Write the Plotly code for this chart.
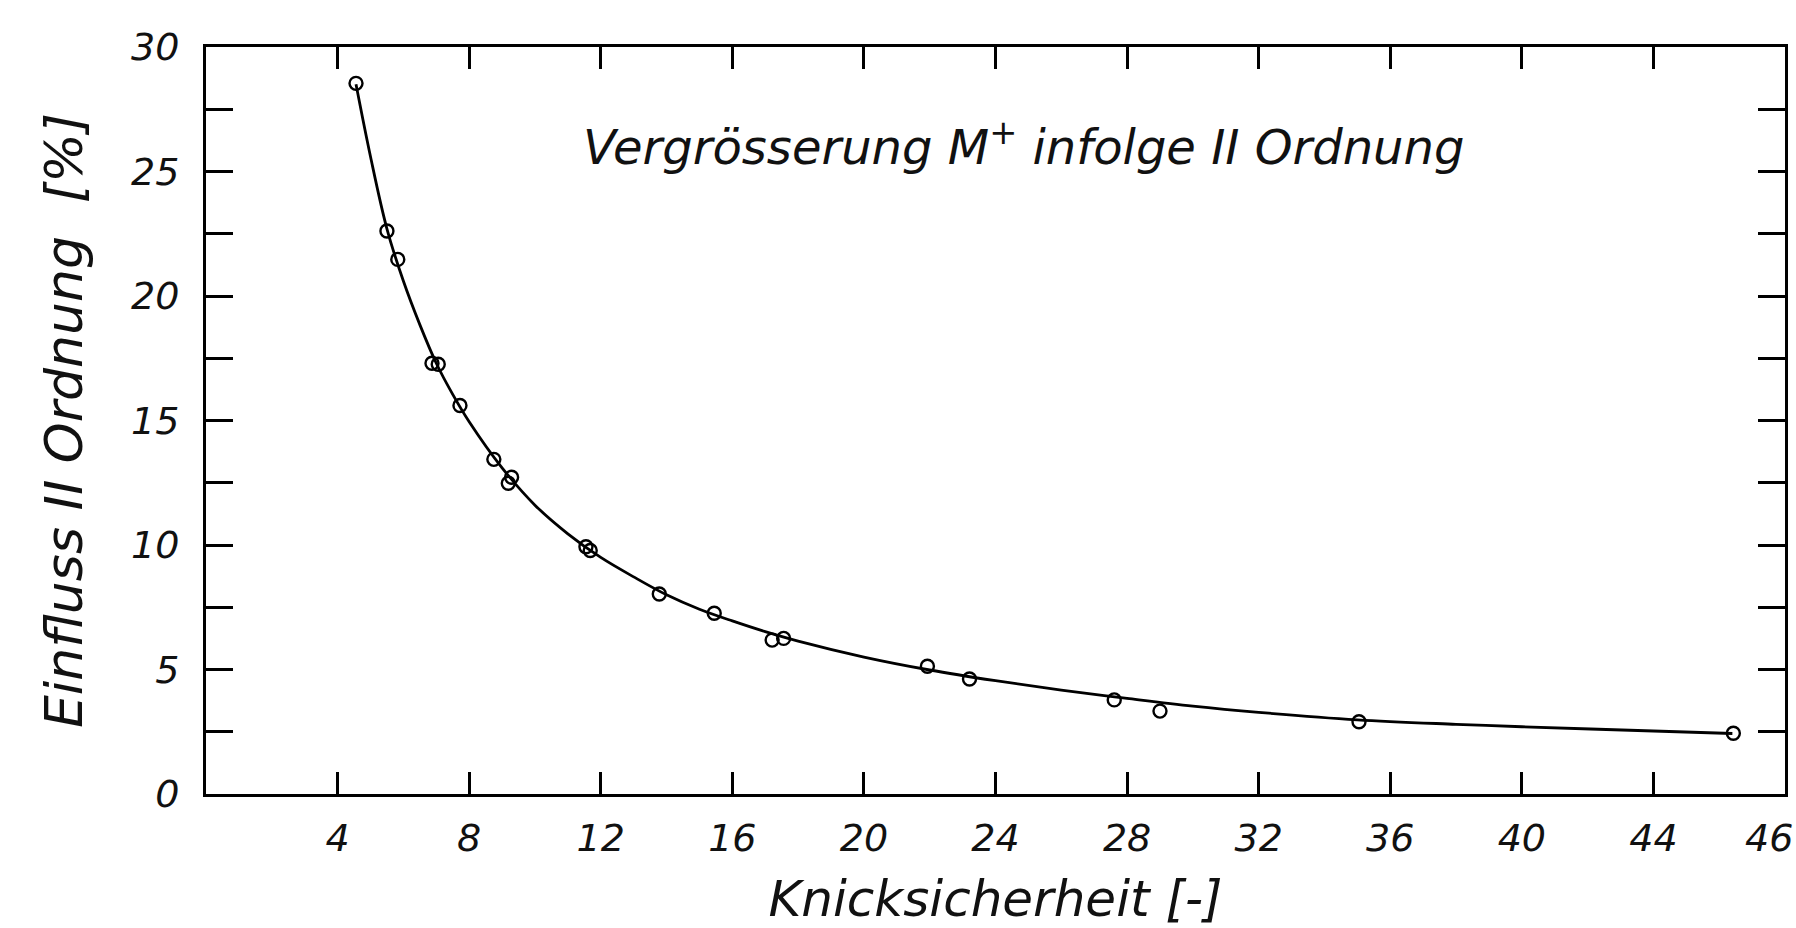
import plotly.graph_objects as go

# Measured points (Knicksicherheit, Einfluss II Ordnung in %)
point_x = [4.56, 5.50, 5.83, 6.87, 7.06, 7.72, 8.75, 9.19, 9.29, 11.55, 11.68,
           13.78, 15.45, 17.21, 17.56, 21.93, 23.21, 27.61, 29.0, 35.05, 46.43]
point_y = [28.54, 22.61, 21.47, 17.30, 17.26, 15.6, 13.44, 12.48, 12.72, 9.93, 9.78,
           8.03, 7.26, 6.18, 6.25, 5.13, 4.62, 3.78, 3.33, 2.90, 2.44]

# Fitted curve
curve_x = [4.56, 5.0, 5.5, 6.0, 6.5, 7.0, 7.5, 8.0, 9.0, 10.0, 11.0, 12.0, 13.0, 14.0,
           15.0, 16.0, 17.0, 18.0, 20.0, 22.0, 24.0, 26.0, 28.0, 30.0, 32.0, 35.0,
           38.0, 40.0, 44.0, 46.4]
curve_y = [28.5, 25.6, 22.7, 20.6, 18.85, 17.3, 16.05, 14.95, 13.1, 11.6, 10.45, 9.5,
           8.72, 8.0, 7.42, 6.95, 6.52, 6.14, 5.5, 4.98, 4.55, 4.17, 3.84, 3.53,
           3.28, 2.98, 2.8, 2.7, 2.53, 2.43]

x_tickvals = [4, 8, 12, 16, 20, 24, 28, 32, 36, 40, 44]
x_ticktext = ["4", "8", "12", "16", "20", "24", "28", "32", "36", "40", "44"]
x_end_label = "46"
y_tickvals = [0, 2.5, 5, 7.5, 10, 12.5, 15, 17.5, 20, 22.5, 25, 27.5, 30]
y_ticktext = ["0", "", "5", "", "10", "", "15", "", "20", "", "25", "", "30"]

FONT = "DejaVu Sans"
TICKFONT = dict(family=FONT, size=38, color="#111", style="italic")

fig = go.Figure()
fig.add_trace(go.Scatter(
    x=curve_x, y=curve_y, mode="lines",
    line=dict(color="black", width=2.8, shape="spline", smoothing=1.0),
    hoverinfo="skip", showlegend=False))
fig.add_trace(go.Scatter(
    x=point_x, y=point_y, mode="markers",
    marker=dict(symbol="circle-open", size=13, color="black", line=dict(width=2.4)),
    showlegend=False))

axis_common = dict(
    showline=True, linecolor="black", linewidth=3, mirror="ticks",
    ticks="inside", tickcolor="black", tickwidth=3,
    showgrid=False, zeroline=False,
    tickfont=TICKFONT,
)

fig.update_xaxes(
    range=[0, 48], tickmode="array", tickvals=x_tickvals, ticktext=x_ticktext,
    ticklen=22, ticklabelstandoff=8,
    title=dict(text="Knicksicherheit [-]", standoff=40,
               font=dict(family=FONT, size=50, color="#111", style="italic")),
    **axis_common)
fig.update_yaxes(
    range=[0, 30], tickmode="array", tickvals=y_tickvals, ticktext=y_ticktext,
    ticklen=27, ticklabelstandoff=16,
    title=dict(text="Einfluss II Ordnung \u00a0[%]", standoff=32,
               font=dict(family=FONT, size=52, color="#111", style="italic")),
    **axis_common)

# last x tick label, sitting at the right edge of the frame
fig.add_annotation(
    x=1, y=0, xref="paper", yref="paper", xanchor="right", yanchor="top",
    xshift=10, yshift=-20, showarrow=False, text=x_end_label, font=TICKFONT)

fig.add_annotation(
    x=24.86, y=26.1, xref="x", yref="y", showarrow=False,
    text="Vergrösserung M<sup>+</sup> infolge II Ordnung",
    font=dict(family=FONT, size=48, color="#111", style="italic"))

fig.update_layout(
    width=1796, height=928,
    margin=dict(l=206, r=11, t=47, b=134, autoexpand=False),
    paper_bgcolor="white", plot_bgcolor="white",
)

fig.write_html("out.html")
